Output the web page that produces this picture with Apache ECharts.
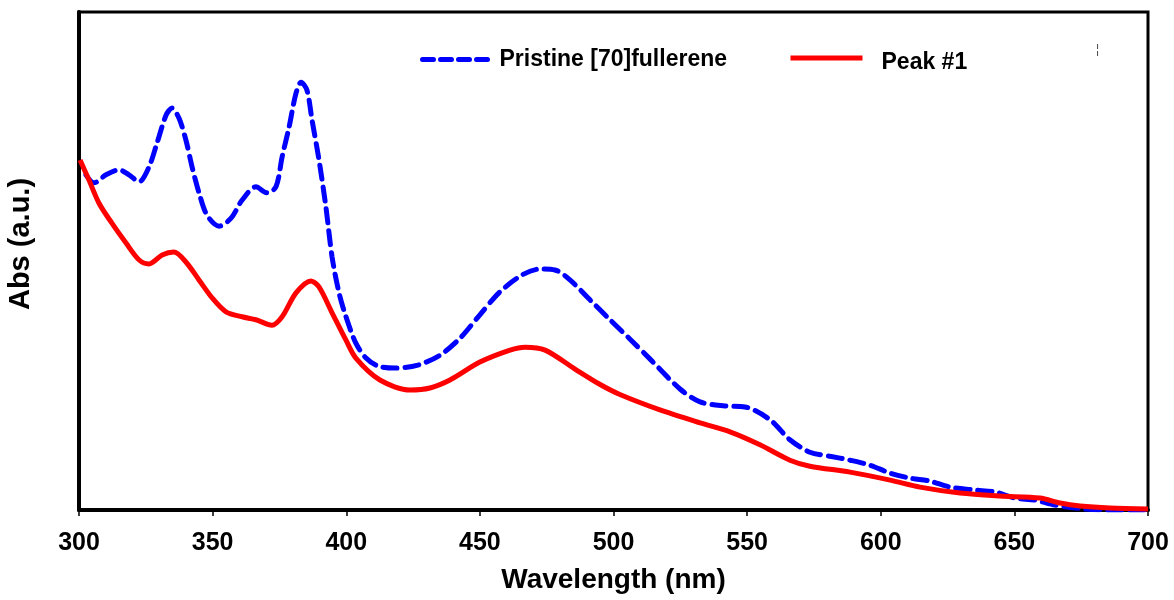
<!DOCTYPE html>
<html>
<head>
<meta charset="utf-8">
<script src="https://cdn.jsdelivr.net/npm/echarts@6/dist/echarts.min.js"></script>
<style>html,body{margin:0;padding:0;background:#fff}#c{width:1174px;height:600px}</style>
</head>
<body>
<div id="c"></div>
<script>
// Data (wavelength in nm, absorbance in arbitrary units)
const seriesNames = ['Pristine [70]fullerene', 'Peak #1'];
const xTickValues = [300, 350, 400, 450, 500, 550, 600, 650, 700];

const pristineNm = [302.6,305.6,310.1,315.0,318.7,322.5,326.2,329.2,332.6,334.8,337.4,340.0,342.3,344.9,347.9,352.4,356.9,361.0,366.2,370.3,373.7,376.0,378.6,381.2,383.1,385.3,387.2,389.8,392.4,394.7,397.3,399.9,403.6,407.4,411.9,418.2,426.8,435.1,442.6,450.0,457.5,465.8,472.5,478.1,483.7,491.2,498.7,506.2,513.7,524.9,532.4,541.7,549.2,558.6,566.0,573.5,581.0,588.5,596.0,603.5,611.0,618.4,625.9,635.3,642.8,650.2,657.7,665.2,676.4,688,700];
const pristineAbs = [0.673,0.657,0.673,0.683,0.673,0.659,0.689,0.737,0.793,0.807,0.787,0.743,0.689,0.637,0.592,0.570,0.586,0.622,0.649,0.637,0.649,0.709,0.769,0.837,0.859,0.843,0.783,0.703,0.608,0.508,0.436,0.388,0.335,0.305,0.289,0.285,0.291,0.311,0.345,0.392,0.438,0.472,0.484,0.482,0.462,0.422,0.382,0.343,0.303,0.243,0.217,0.209,0.207,0.181,0.141,0.116,0.108,0.100,0.090,0.074,0.064,0.058,0.046,0.040,0.036,0.024,0.020,0.010,0.002,0.000,0.000];

const peakNm = [300.4,303.7,307.5,312.3,317.6,322.5,326.2,331.1,335.5,340.0,344.9,349.8,355.0,361.0,366.2,372.2,376.0,381.2,386.8,389.8,394.7,399.9,403.6,412.6,423.9,431.3,438.8,450.0,461.3,466.9,474.4,485.6,495.0,502.4,517.4,532.4,543.6,554.8,566.0,573.5,588.5,603.5,614.7,629.7,644.6,659.6,667.1,674.6,685.8,700];
const peakAbs = [0.703,0.663,0.616,0.576,0.536,0.502,0.494,0.512,0.518,0.498,0.462,0.426,0.398,0.388,0.382,0.371,0.388,0.436,0.460,0.448,0.396,0.341,0.305,0.261,0.241,0.245,0.261,0.297,0.321,0.327,0.321,0.283,0.252,0.232,0.201,0.175,0.157,0.131,0.100,0.088,0.076,0.060,0.046,0.034,0.028,0.024,0.014,0.008,0.004,0.002];

const zip = (a, b) => a.map((v, i) => [v, b[i]]);

const chart = echarts.init(document.getElementById('c'), null, {renderer: 'canvas'});
const FONT = '"Liberation Sans", Arial, sans-serif';
chart.setOption({
  backgroundColor: '#ffffff',
  animation: false,
  grid: {left: 79, right: 26, top: 12, bottom: 90, outerBoundsMode: 'none', containLabel: false,
         show: true, borderColor: '#000', borderWidth: 3, backgroundColor: 'transparent'},
  legend: [
    {data: [seriesNames[0]], left: 415, top: 43, itemWidth: 72, itemHeight: 14, itemGap: 0,
     itemStyle: {opacity: 0}, lineStyle: {width: 5, type: [11, 7], cap: 'round'},
     textStyle: {fontFamily: FONT, fontWeight: 'bold', fontSize: 23, color: '#000', padding: [0, 0, 0, 0]}},
    {data: [seriesNames[1]], left: 783, top: 46, itemWidth: 72, itemHeight: 14, itemGap: 0,
     itemStyle: {opacity: 0}, lineStyle: {width: 5},
     formatter: '{p|{name}}',
     textStyle: {fontFamily: FONT, fontWeight: 'bold', fontSize: 23, color: '#000',
       rich: {p: {fontFamily: FONT, fontWeight: 'bold', fontSize: 23, color: '#000', padding: [9, 0, 0, 14]}}}}
  ],
  xAxis: {
    type: 'value', min: 300, max: 700, interval: 50,
    name: 'Wavelength (nm)', nameLocation: 'middle', nameGap: 56,
    nameTextStyle: {fontFamily: FONT, fontWeight: 'bold', fontSize: 28, color: '#000'},
    axisLine: {show: true, lineStyle: {color: '#000', width: 4}},
    axisTick: {show: true, length: 6, lineStyle: {color: '#000', width: 1.5}},
    axisLabel: {fontFamily: FONT, fontWeight: 'bold', fontSize: 25, color: '#000', margin: 21,
      formatter: v => xTickValues.includes(v) ? String(v) : ''},
    splitLine: {show: false}
  },
  yAxis: {
    type: 'value', min: 0, max: 1,
    name: 'Abs (a.u.)', nameLocation: 'middle', nameGap: 44, nameRotate: 90,
    nameTextStyle: {fontFamily: FONT, fontWeight: 'bold', fontSize: 29, color: '#000', padding: [0, 0, 0, 34]},
    axisLine: {show: true, lineStyle: {color: '#000', width: 4}},
    axisTick: {show: false}, axisLabel: {show: false}, splitLine: {show: false}
  },
  graphic: [
    {type: 'text', left: 1096, top: 44, style: {text: '¦', font: '12px ' + FONT, fill: '#444'}}
  ],
  series: [
    {name: seriesNames[0], type: 'line', data: zip(pristineNm, pristineAbs), smooth: 0.3, symbol: 'none',
     lineStyle: {color: '#0000ff', width: 5, type: [14, 8], cap: 'round'}, itemStyle: {color: '#0000ff'}},
    {name: seriesNames[1], type: 'line', data: zip(peakNm, peakAbs), smooth: 0.3, symbol: 'none',
     lineStyle: {color: '#ff0000', width: 5}, itemStyle: {color: '#ff0000'}}
  ]
});
</script>
</body>
</html>
